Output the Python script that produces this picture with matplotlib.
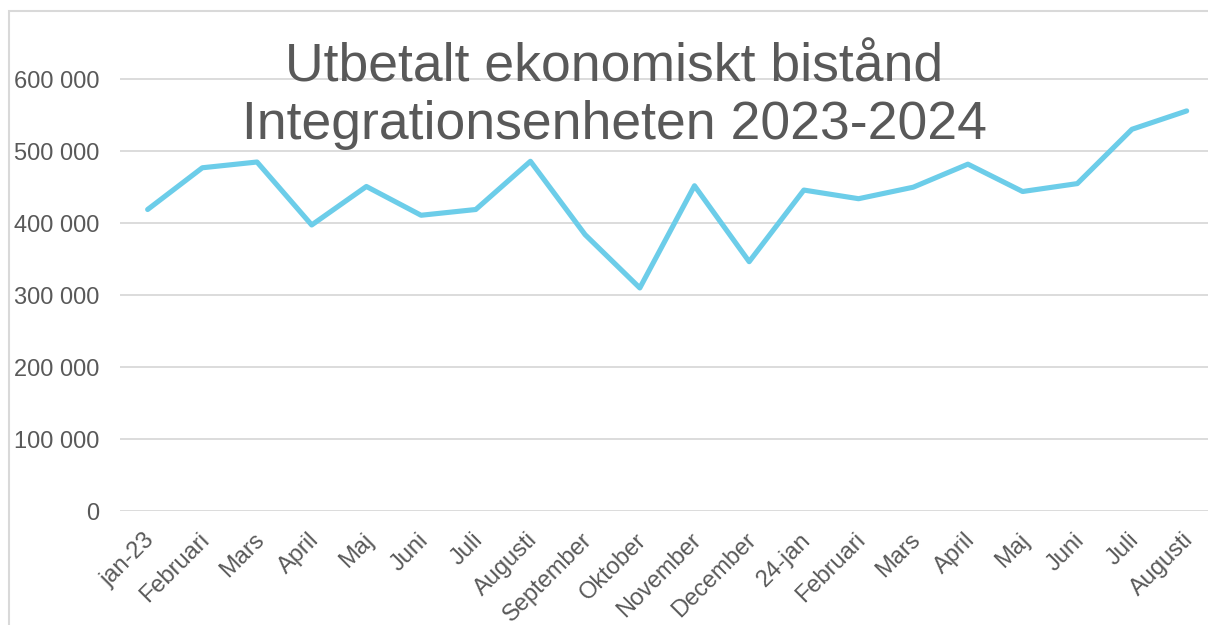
import matplotlib
matplotlib.use("Agg")
import matplotlib.pyplot as plt
from matplotlib.patches import Rectangle
from matplotlib.ticker import FuncFormatter
from matplotlib.transforms import ScaledTranslation

months = ["jan-23", "Februari", "Mars", "April", "Maj", "Juni", "Juli",
          "Augusti", "September", "Oktober", "November", "December",
          "24-jan", "Februari", "Mars", "April", "Maj", "Juni", "Juli",
          "Augusti"]
paid = [419000, 477000, 485000, 397500, 451000, 411000, 419000,
        486000, 384000, 310000, 452000, 346500,
        446000, 434000, 450000, 482000, 444000, 455000, 530500, 556000]
yticks = [0, 100000, 200000, 300000, 400000, 500000, 600000]

title = "Utbetalt ekonomiskt bistånd\nIntegrationsenheten 2023-2024"

plt.rcParams['font.family'] = ['Liberation Sans', 'DejaVu Sans']
gray = '#595959'
W, H = 1208, 625

fig = plt.figure(figsize=(W / 100, H / 100), dpi=100)
ax = fig.add_axes([120.3 / W, 1 - 511 / H, 1093.7 / W, 496.5 / H])

x = list(range(len(months)))
ax.plot(x, paid, color='#6ccde9', linewidth=3.7, solid_capstyle='round',
        solid_joinstyle='round', zorder=3)

ax.set_xlim(-0.5, len(months) - 0.5)
ax.set_yticks(yticks)
ax.set_ylim(0, 690000)
ax.yaxis.set_major_formatter(FuncFormatter(lambda v, p: f"{v:,.0f}".replace(",", " ")))
ax.grid(axis='y', color='#d9d9d9', linewidth=1.3, zorder=0)
ax.set_axisbelow(True)

for s in ax.spines.values():
    s.set_visible(False)

ax.set_xticks(x)
ax.set_xticklabels(months, rotation=45, ha='right', rotation_mode='anchor')
ax.tick_params(axis='both', length=0, labelsize=17, labelcolor=gray)
ax.tick_params(axis='y', pad=15)
ax.tick_params(axis='x', pad=13)
shift = ScaledTranslation(-4 / 100, 0, fig.dpi_scale_trans)
for lab in ax.get_xticklabels():
    lab.set_transform(lab.get_transform() + shift)

fig.text(614 / W, 1 - 96 / H, title, ha='center', va='center',
         fontsize=38.5, color=gray, linespacing=1.2)

fig.add_artist(Rectangle((9 / W, -0.05), 1.2, 1 - 11 / H + 0.05,
                         transform=fig.transFigure, fill=False,
                         edgecolor='#d9d9d9', linewidth=1.5))

fig.savefig("out.png", dpi=100, facecolor='white')
